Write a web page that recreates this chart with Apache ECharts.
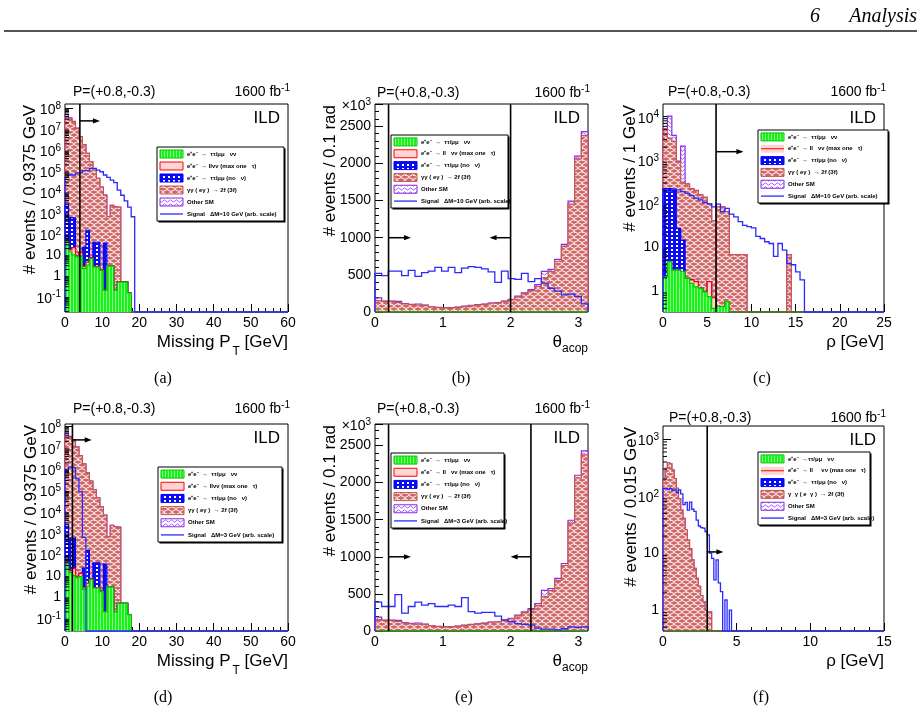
<!DOCTYPE html>
<html>
<head>
<meta charset="utf-8">
<script src="https://cdn.jsdelivr.net/npm/echarts@6/dist/echarts.min.js"></script>
<style>
html,body{margin:0;padding:0;background:#fff;}
#chart{width:921px;height:715px;}
</style>
</head>
<body>
<div id="chart"></div>
<script>
// ================= DATA =================
// Panels (a) and (d): Missing PT, bins of 0.9375 GeV, 64 bins from 0 to 60 GeV
const missPtBinWidth = 0.9375;
const missPtBins = 64;
const missPtTauMuNuNu = [42, 14, 10, 8, 9, 2.2, 3.2, 6.6, 2.6, 2.6, 1.8, 0.2, 2.9, 2.9, 0.2, 0.5, 0.5, 0.5, 0.15];
const missPtLLNuNu    = [5, 3, 12, 1, 4, 0.5, 1.3, 0.5, 0.2, 0.2, 0.1];
const missPtTauMuNoNu = [2450, 580, 560, 0, 0, 20, 145, 0, 37, 37, 0, 35];
const missPtGammaGamma = [3.5e7, 3.0e7, 2.3e7, 1.1e7, 4.4e6, 1.8e6, 7.0e5, 2.8e5, 1.1e5, 4.5e4, 1.7e4, 7000, 660, 2300, 2000, 1900];
const missPtOtherSM   = [1.5e7, 5e6, 1e6, 2e5, 5e4, 2e4, 6000, 2000, 600, 200, 60, 20, 5, 5, 5, 3];
const missPtSignalDM10 = [5.0e4, 6.5e4, 6.5e4, 8.3e4, 8.3e4, 1.05e5, 1.05e5, 1.35e5, 1.35e5, 1.12e5, 9.3e4, 6.5e4, 5.0e4, 3.7e4, 2.8e4, 1.23e4, 7.0e3, 3.8e3, 1.9e3, 660];
const missPtSignalDM3  = [1.0e6, 1.3e6, 1.2e6, 3.7e5, 9.0e4, 630];
const missPtCutDM10 = [4];
const missPtArrowDM10 = [[4, 9.4, 2.5e7]];
const missPtCutDM3 = [2];
const missPtArrowDM3 = [[2, 7.2, 2.4e7]];

// Panels (b) and (e): theta_acop, 32 bins from 0 to pi, values in units of 10^3 events
const acopBins = 32;
const acopTauMuNuNu = [1, 1, 1, 1, 1, 1, 1, 1, 1, 1, 1, 1, 1, 1, 1, 1, 1, 1, 1, 1, 1, 1, 1, 1, 1, 1, 1, 1, 1, 1, 1, 1];
const acopLLNuNu    = [1, 1, 1, 1, 1, 1, 1, 1, 1, 1, 1, 1, 1, 1, 1, 1, 1, 1, 1, 1, 1, 1, 1, 1, 1, 1, 1, 1, 1, 1, 1, 1];
const acopTauMuNoNu = [2, 1, 1, 1, 1, 1, 1, 1, 1, 1, 1, 1, 1, 1, 1, 1, 1, 1, 1, 1, 1, 1, 1, 1, 1, 1, 1, 1, 1, 1, 1, 2];
const acopGammaGamma = [150, 140, 140, 125, 105, 95, 90, 85, 65, 57, 50, 52, 60, 70, 82, 92, 100, 115, 118, 140, 162, 200, 245, 285, 340, 460, 540, 680, 880, 1450, 2060, 2370];
const acopOtherSM   = [35, 5, 5, 15, 5, 5, 15, 5, 3, 3, 2, 3, 2, 5, 3, 3, 5, 3, 4, 5, 6, 10, 11, 15, 25, 85, 30, 25, 27, 40, 36, 54];
const acopSignalDM10 = [520, 490, 550, 550, 490, 560, 480, 530, 550, 600, 550, 600, 530, 590, 610, 600, 580, 540, 400, 550, 450, 440, 520, 410, 450, 390, 320, 280, 230, 240, 210, 110];
const acopSignalDM3  = [390, 330, 330, 490, 240, 330, 390, 350, 370, 330, 330, 350, 330, 450, 260, 240, 250, 250, 200, 150, 125, 100, 90, 80, 40, 25, 25, 15, 30, 55, 45, 55];
const acopCutDM10 = [0.2, 2.0];
const acopArrowDM10 = [[0.2, 0.53, 1000], [2.0, 1.69, 1000]];
const acopCutDM3 = [0.2, 2.3];
const acopArrowDM3 = [[0.2, 0.53, 1000], [2.3, 2.0, 1000]];

// Panel (c): rho, 50 bins of 0.5 GeV from 0 to 25 GeV
const rhoBinWidth = 0.5;
const rhoBins = 50;
const rhoTauMuNuNu = [2.1, 4.7, 3.0, 3.0, 2.8, 1.95, 1.5, 1.25, 1.15, 0.96, 0.74, 0.4, 0.44, 0.44, 0.57];
const rhoLLNuNu    = [0, 0, 0, 0, 0, 0, 0.3, 0.4, 0, 0, 0.9, 0.3];
const rhoTauMuNoNu = [222, 219, 197, 24, 12];
const rhoGammaGamma = [5000, 3000, 2500, 900, 300, 280, 220, 200, 160, 140, 100, 40, 85, 85, 66, 6.8, 6.8, 6.8, 6.8, 0, 0, 0, 0, 0, 0, 0, 0, 0, 6.8];
const rhoOtherSM   = [100, 7000, 1000, 30, 1800, 5, 3, 2];
const rhoSignalDM10 = [209, 190, 219, 209, 190, 174, 155, 135, 123, 107, 100, 85, 98, 66, 79, 58, 50, 39, 32, 30, 28, 18, 16, 13.5, 12.3, 6.2, 12.3, 8.7, 4.3, 4.0, 2.75, 1.8];
const rhoCutDM10 = [6];
const rhoArrowDM10 = [[6, 9.1, 1570]];

// Panel (f): rho, 100 bins of 0.15 GeV from 0 to 15 GeV
const rhoFineBinWidth = 0.15;
const rhoFineBins = 100;
const rhoFineTauMuNuNu = [];
const rhoFineLLNuNu    = [];
const rhoFineTauMuNoNu = [];
const rhoFineGammaGamma = [190, 310, 390, 370, 290, 205, 138, 91, 57, 41, 26, 17, 12, 7.6, 5.4, 3.6, 2.6, 1.8, 1.4, 1.0, 0.93, 0.93];
const rhoFineOtherSM   = [];
const rhoFineSignalDM3 = [137, 137, 132, 137, 126, 129, 115, 129, 110, 71, 78, 57, 79, 59, 54, 38, 30, 28, 27.5, 24, 21, 10, 8.1, 3.4, 7.6, 3.0, 2.1, 0, 1.5, 0, 1.0];
const rhoFineCutDM3 = [3];
const rhoFineArrowDM3 = [[3, 4.1, 10.5]];

// Legend texts
const legendA = ['e\u207Ae\u207B  \u2192  \u03C4\u03C4/\u03BC\u03BC   \u03BD\u03BD', 'e\u207Ae\u207B  \u2192 ll\u03BD\u03BD (max one   \u03C4)', 'e\u207Ae\u207B  \u2192  \u03C4\u03C4/\u03BC\u03BC (no   \u03BD)', '\u03B3\u03B3 ( e\u03B3 )  \u2192 2f (3f)', 'Other SM', 'Signal   \u0394M=10 GeV (arb. scale)'];
const legendB = ['e\u207Ae\u207B  \u2192  \u03C4\u03C4/\u03BC\u03BC   \u03BD\u03BD', 'e\u207Ae\u207B  \u2192 ll   \u03BD\u03BD (max one   \u03C4)', 'e\u207Ae\u207B  \u2192  \u03C4\u03C4/\u03BC\u03BC (no   \u03BD)', '\u03B3\u03B3 ( e\u03B3 )  \u2192 2f (3f)', 'Other SM', 'Signal   \u0394M=10 GeV (arb. scale)'];
const legendD = ['e\u207Ae\u207B  \u2192  \u03C4\u03C4/\u03BC\u03BC   \u03BD\u03BD', 'e\u207Ae\u207B  \u2192 ll\u03BD\u03BD (max one   \u03C4)', 'e\u207Ae\u207B  \u2192  \u03C4\u03C4/\u03BC\u03BC (no   \u03BD)', '\u03B3\u03B3 ( e\u03B3 )  \u2192 2f (3f)', 'Other SM', 'Signal   \u0394M=3 GeV (arb. scale)'];
const legendE = ['e\u207Ae\u207B  \u2192  \u03C4\u03C4/\u03BC\u03BC   \u03BD\u03BD', 'e\u207Ae\u207B  \u2192 ll   \u03BD\u03BD (max one   \u03C4)', 'e\u207Ae\u207B  \u2192  \u03C4\u03C4/\u03BC\u03BC (no   \u03BD)', '\u03B3\u03B3 ( e\u03B3 )  \u2192 2f (3f)', 'Other SM', 'Signal   \u0394M=3 GeV (arb. scale)'];
const legendF = ['e\u207Ae\u207B  \u2192\u03C4\u03C4/\u03BC\u03BC   \u03BD\u03BD', 'e\u207Ae\u207B  \u2192 ll     \u03BD\u03BD (max one   \u03C4)', 'e\u207Ae\u207B  \u2192  \u03C4\u03C4/\u03BC\u03BC (no   \u03BD)', '\u03B3  \u03B3 ( e  \u03B3 )  \u2192 2f (3f)', 'Other SM', 'Signal   \u0394M=3 GeV (arb. scale)'];

// ================= STYLE =================
const FONT = '"Liberation Sans", Arial, Helvetica, sans-serif';
const SERIF = '"Liberation Serif", "Times New Roman", serif';
const SIG_COLOR = '#2a2aff';

function makePattern(w, h, base, draw) {
  const c = document.createElement('canvas');
  c.width = w; c.height = h;
  const g = c.getContext('2d');
  g.fillStyle = base; g.fillRect(0, 0, w, h);
  draw(g);
  return { image: c, repeat: 'repeat' };
}
const STACK_STYLE = [
  { fill: makePattern(3, 3, '#1cf01c', g => { g.fillStyle = '#86ff86'; g.fillRect(1, 0, 1, 3); }), stroke: '#00c800' },
  { fill: '#ffd4d4', stroke: '#ff0000' },
  { fill: makePattern(5, 4, '#0b0bef', g => { g.fillStyle = '#ffffff'; g.fillRect(1, 1, 2, 2); }), stroke: '#0000ff' },
  { fill: makePattern(8, 6, '#d06666', g => {
      g.strokeStyle = '#ffffff'; g.lineWidth = 1;
      g.beginPath(); g.moveTo(0, 1.5); g.lineTo(2, 0.5); g.lineTo(4, 1.5); g.lineTo(6, 2.5); g.lineTo(8, 1.5); g.stroke();
      g.beginPath(); g.moveTo(-4, 4.5); g.lineTo(-2, 3.5); g.lineTo(0, 4.5); g.lineTo(2, 5.5); g.lineTo(4, 4.5); g.lineTo(6, 3.5); g.lineTo(8, 4.5); g.stroke();
      g.fillStyle = '#ffffff'; g.fillRect(6, 4, 1, 1);
    }), stroke: '#c85555' },
  { fill: makePattern(6, 4, '#ffffff', g => {
      g.strokeStyle = '#a060ff'; g.lineWidth = 1;
      g.beginPath(); g.moveTo(0, 2); g.lineTo(1.5, 0.8); g.lineTo(3, 2); g.lineTo(4.5, 3.2); g.lineTo(6, 2); g.stroke();
    }), stroke: '#8a2be2' }
];

// ================= PANELS =================
const panels = [
  { grid: {left: 65, top: 104, width: 223, height: 208}, xMin: 0, xMax: 60, xInt: 10, yLog: true, yMin: 0.0186, yMax: 1.6e8,
    binW: missPtBinWidth, nBins: missPtBins,
    comps: [missPtTauMuNuNu, missPtLLNuNu, missPtTauMuNoNu, missPtGammaGamma, missPtOtherSM], sig: missPtSignalDM10,
    cuts: missPtCutDM10, arrows: missPtArrowDM10,
    pX: 73, pY: 92, yTitle: '# events / 0.9375 GeV', yTitleX: 30, xTitle: 'pt',
    legend: {x: 157, y: 147, w: 127, h: 74, variant: 0, texts: legendA}, caption: '(a)', capX: 163, capY: 379 },
  { grid: {left: 375, top: 104, width: 213, height: 208}, xMin: 0, xMax: Math.PI, xInt: 1, yLog: false, yMin: 0, yMax: 2800, yInt: 500,
    binW: Math.PI / acopBins, nBins: acopBins,
    comps: [acopTauMuNuNu, acopLLNuNu, acopTauMuNoNu, acopGammaGamma, acopOtherSM], sig: acopSignalDM10,
    cuts: acopCutDM10, arrows: acopArrowDM10,
    pX: 377, pY: 93, yTitle: '# events / 0.1 rad', yTitleX: 330, xTitle: 'acop', times: {x: 371, y: 106},
    legend: {x: 391, y: 135, w: 117, h: 73, variant: 0, texts: legendB}, caption: '(b)', capX: 461, capY: 379 },
  { grid: {left: 663, top: 104, width: 221, height: 208}, xMin: 0, xMax: 25, xInt: 5, yLog: true, yMin: 0.33, yMax: 1.95e4,
    binW: rhoBinWidth, nBins: rhoBins,
    comps: [rhoTauMuNuNu, rhoLLNuNu, rhoTauMuNoNu, rhoGammaGamma, rhoOtherSM], sig: rhoSignalDM10,
    cuts: rhoCutDM10, arrows: rhoArrowDM10,
    pX: 668, pY: 92, yTitle: '# events / 1 GeV', yTitleX: 630, xTitle: 'rho',
    legend: {x: 758, y: 130, w: 130, h: 73, variant: 1, texts: legendB}, caption: '(c)', capX: 762, capY: 379 },
  { grid: {left: 65, top: 424, width: 223, height: 207}, xMin: 0, xMax: 60, xInt: 10, yLog: true, yMin: 0.0253, yMax: 1.34e8,
    binW: missPtBinWidth, nBins: missPtBins,
    comps: [missPtTauMuNuNu, missPtLLNuNu, missPtTauMuNoNu, missPtGammaGamma, missPtOtherSM], sig: missPtSignalDM3,
    cuts: missPtCutDM3, arrows: missPtArrowDM3,
    pX: 73, pY: 409, yTitle: '# events / 0.9375 GeV', yTitleX: 31, xTitle: 'pt',
    legend: {x: 158, y: 467, w: 124, h: 75, variant: 0, texts: legendD}, caption: '(d)', capX: 163, capY: 698 },
  { grid: {left: 375, top: 424, width: 213, height: 207}, xMin: 0, xMax: Math.PI, xInt: 1, yLog: false, yMin: 0, yMax: 2790, yInt: 500,
    binW: Math.PI / acopBins, nBins: acopBins,
    comps: [acopTauMuNuNu, acopLLNuNu, acopTauMuNoNu, acopGammaGamma, acopOtherSM], sig: acopSignalDM3,
    cuts: acopCutDM3, arrows: acopArrowDM3,
    pX: 377, pY: 409, yTitle: '# events / 0.1 rad', yTitleX: 330, xTitle: 'acop', times: {x: 371, y: 426},
    legend: {x: 391, y: 453, w: 113, h: 75, variant: 0, texts: legendE}, caption: '(e)', capX: 464, capY: 698 },
  { grid: {left: 663, top: 426, width: 221, height: 205}, xMin: 0, xMax: 15, xInt: 5, yLog: true, yMin: 0.428, yMax: 1715,
    binW: rhoFineBinWidth, nBins: rhoFineBins,
    comps: [rhoFineTauMuNuNu, rhoFineLLNuNu, rhoFineTauMuNoNu, rhoFineGammaGamma, rhoFineOtherSM], sig: rhoFineSignalDM3,
    cuts: rhoFineCutDM3, arrows: rhoFineArrowDM3,
    pX: 669, pY: 418, yTitle: '# events / 0.015 GeV', yTitleX: 631, xTitle: 'rho',
    legend: {x: 758, y: 452, w: 112, h: 73, variant: 1, texts: legendF}, caption: '(f)', capX: 761, capY: 698 }
];

// ================= BUILD =================
function cumulate(comps, n) {
  const cum = [];
  let prev = new Array(n).fill(0);
  comps.forEach(c => {
    const cur = prev.map((v, i) => v + (c[i] || 0));
    cum.push(cur); prev = cur;
  });
  return cum;
}
function clampFn(p) {
  return v => Math.min(p.yMax, p.yLog ? Math.max(v, p.yMin) : Math.max(v, 0));
}
function logLabel(v) {
  const n = Math.round(Math.log10(v));
  if (n === 0) return '1';
  if (n === 1) return '10';
  return '{b|10}{s|' + n + '}';
}
const tickRich = {
  b: {fontSize: 14, fontFamily: FONT, color: '#000', lineHeight: 14, padding: [4, 0, 0, 0]},
  s: {fontSize: 10, fontFamily: FONT, color: '#000', lineHeight: 10, verticalAlign: 'top'}
};

const grids = [], xAxes = [], yAxes = [], series = [], graphics = [];

panels.forEach((p, gi) => {
  p.cum = cumulate(p.comps, p.nBins);
  const cl = clampFn(p);
  grids.push(Object.assign({show: true, borderColor: '#000', borderWidth: 1, backgroundColor: 'transparent', containLabel: false, outerBoundsMode: 'none'}, p.grid));
  xAxes.push({
    gridIndex: gi, type: 'value', min: p.xMin, max: p.xMax, interval: p.xInt,
    axisLine: {show: false},
    axisTick: {show: true, inside: true, length: 8, lineStyle: {color: '#000', width: 1}},
    minorTick: {show: true, splitNumber: 5, length: 4, lineStyle: {color: '#000', width: 1}},
    splitLine: {show: false}, minorSplitLine: {show: false},
    axisLabel: {color: '#000', fontSize: 14, fontFamily: FONT, margin: 4, showMinLabel: true, showMaxLabel: p.xMax === Math.PI ? false : true,
      formatter: v => String(Math.round(v * 1000) / 1000)}
  });
  if (p.yLog) {
    yAxes.push({
      gridIndex: gi, type: 'log', logBase: 10, min: p.yMin, max: p.yMax, splitNumber: 10,
      axisLine: {show: false},
      axisTick: {show: true, inside: true, length: 8, lineStyle: {color: '#000', width: 1}},
      splitLine: {show: false},
      axisLabel: {color: '#000', fontSize: 14, fontFamily: FONT, margin: 4, showMinLabel: false, showMaxLabel: false, formatter: logLabel, rich: tickRich}
    });
  } else {
    yAxes.push({
      gridIndex: gi, type: 'value', min: p.yMin, max: p.yMax, interval: p.yInt,
      axisLine: {show: false},
      axisTick: {show: true, inside: true, length: 8, lineStyle: {color: '#000', width: 1}},
      minorTick: {show: true, splitNumber: 5, length: 4, lineStyle: {color: '#000', width: 1}},
      splitLine: {show: false}, minorSplitLine: {show: false},
      axisLabel: {color: '#000', fontSize: 14, fontFamily: FONT, margin: 4, showMinLabel: true, showMaxLabel: false,
        formatter: v => String(Math.round(v))}
    });
  }
  const xEnd = p.xMin + p.nBins * p.binW;
  // stacked backgrounds, drawn from the top component down (ROOT THStack order)
  for (let k = 4; k >= 0; k--) {
    series.push({
      type: 'custom', xAxisIndex: gi, yAxisIndex: gi, silent: true, animation: false,
      data: [[p.binW, 1]],
      renderItem: (params, api) => {
        const hi = p.cum[k], lo = k > 0 ? p.cum[k - 1] : null;
        const top = [], bot = [];
        for (let i = 0; i < p.nBins; i++) {
          const x0 = p.xMin + i * p.binW, x1 = x0 + p.binW;
          const h = cl(hi[i]), l = cl(lo ? lo[i] : 0);
          top.push(api.coord([x0, h]), api.coord([x1, h]));
          bot.push(api.coord([x0, l]), api.coord([x1, l]));
        }
        const outline = [api.coord([p.xMin, cl(0)])].concat(top, [api.coord([xEnd, cl(0)])]);
        return {type: 'group', children: [
          {type: 'polygon', shape: {points: top.concat(bot.slice().reverse())}, style: {fill: STACK_STYLE[k].fill, stroke: null}},
          {type: 'polyline', shape: {points: outline}, style: {fill: 'none', stroke: STACK_STYLE[k].stroke, lineWidth: 1.2}}
        ]};
      }
    });
  }
  // signal
  series.push({
    type: 'custom', xAxisIndex: gi, yAxisIndex: gi, silent: true, animation: false,
    data: [[p.binW, 1]],
    renderItem: (params, api) => {
      const pts = [api.coord([p.xMin, cl(0)])];
      for (let i = 0; i < p.nBins; i++) {
        const x0 = p.xMin + i * p.binW, x1 = x0 + p.binW;
        const h = cl(p.sig[i] || 0);
        pts.push(api.coord([x0, h]), api.coord([x1, h]));
      }
      pts.push(api.coord([xEnd, cl(0)]));
      return {type: 'polyline', shape: {points: pts}, style: {fill: 'none', stroke: SIG_COLOR, lineWidth: 1.3}};
    }
  });
  // cut lines and arrows
  series.push({
    type: 'custom', xAxisIndex: gi, yAxisIndex: gi, silent: true, animation: false,
    data: [[p.binW, 1]],
    renderItem: (params, api) => {
      const ch = [];
      p.cuts.forEach(c => {
        const a = api.coord([c, p.yLog ? p.yMin : 0]), b = api.coord([c, p.yMax]);
        ch.push({type: 'line', shape: {x1: a[0], y1: a[1], x2: b[0], y2: b[1]}, style: {stroke: '#000', lineWidth: 1.6}});
      });
      p.arrows.forEach(ar => {
        const a = api.coord([ar[0], ar[2]]), b = api.coord([ar[1], ar[2]]);
        const d = b[0] > a[0] ? 1 : -1;
        ch.push({type: 'line', shape: {x1: a[0], y1: a[1], x2: b[0] - d * 3, y2: b[1]}, style: {stroke: '#000', lineWidth: 1.5}});
        ch.push({type: 'polygon', shape: {points: [[b[0], b[1]], [b[0] - d * 7, b[1] - 2.6], [b[0] - d * 7, b[1] + 2.6]]}, style: {fill: '#000'}});
      });
      return {type: 'group', children: ch};
    }
  });
  // log-axis minor ticks (2..9 x 10^n)
  if (p.yLog) {
    series.push({
      type: 'custom', xAxisIndex: gi, yAxisIndex: gi, silent: true, animation: false,
      data: [[p.binW, 1]],
      renderItem: (params, api) => {
        const ch = [];
        const d0 = Math.floor(Math.log10(p.yMin)), d1 = Math.ceil(Math.log10(p.yMax));
        for (let d = d0; d <= d1; d++) {
          for (let m = 2; m <= 9; m++) {
            const v = m * Math.pow(10, d);
            if (v <= p.yMin || v >= p.yMax) continue;
            const q = api.coord([p.xMin, v]);
            ch.push({type: 'line', shape: {x1: q[0], y1: q[1], x2: q[0] + 4, y2: q[1]}, style: {stroke: '#000', lineWidth: 1}});
          }
        }
        return {type: 'group', children: ch};
      }
    });
  }

  // ---- texts ----
  const G = p.grid, right = G.left + G.width, bottom = G.top + G.height;
  const T = (x, y, style, extra) => Object.assign({type: 'text', x: x, y: y, z: 100, silent: true,
    style: Object.assign({fill: '#000', font: '14px ' + FONT}, style)}, extra || {});
  graphics.push(T(p.pX, p.pY, {text: 'P=(+0.8,-0.3)', align: 'left', verticalAlign: 'middle', textAlign: 'left', textVerticalAlign: 'middle'}));
  graphics.push(T(right + 2, p.pY - 2, {text: '{n|1600 fb}{s|-1}', align: 'right', verticalAlign: 'middle', textAlign: 'right', textVerticalAlign: 'middle',
    rich: {n: {fontSize: 14, fontFamily: FONT, lineHeight: 14, padding: [4, 0, 0, 0]}, s: {fontSize: 10, fontFamily: FONT, lineHeight: 10, verticalAlign: 'top'}}}));
  graphics.push(T(right - 8, G.top + 14, {text: 'ILD', font: '17px ' + FONT, align: 'right', verticalAlign: 'middle', textAlign: 'right', textVerticalAlign: 'middle'}));
  graphics.push(T(p.yTitleX, G.top + 1, {text: p.yTitle, font: '17px ' + FONT, align: 'right', verticalAlign: 'middle', textAlign: 'right', textVerticalAlign: 'middle'}, {rotation: Math.PI / 2}));
  let xt, xr;
  if (p.xTitle === 'pt') {
    xt = '{n|Missing P}{sub|T}{n| [GeV]}';
    xr = {n: {fontSize: 17, fontFamily: FONT, lineHeight: 17, verticalAlign: 'top'}, sub: {fontSize: 12, fontFamily: FONT, lineHeight: 12, verticalAlign: 'top', padding: [12, 0, 0, 2]}};
  } else if (p.xTitle === 'acop') {
    xt = '{n|\u03B8}{sub|acop}';
    xr = {n: {fontSize: 17, fontFamily: FONT, lineHeight: 17, verticalAlign: 'top'}, sub: {fontSize: 12, fontFamily: FONT, lineHeight: 12, verticalAlign: 'top', padding: [9, 0, 0, 0]}};
  } else {
    xt = '{n|\u03C1 [GeV]}';
    xr = {n: {fontSize: 17, fontFamily: FONT, lineHeight: 17, verticalAlign: 'top'}};
  }
  graphics.push(T(right, bottom + 30 - 8.5, {text: xt, rich: xr, align: 'right', verticalAlign: 'top', textAlign: 'right', textVerticalAlign: 'top'}));
  if (p.times) {
    graphics.push(T(p.times.x, p.times.y - 2, {text: '{n|\u00D710}{s|3}', align: 'right', verticalAlign: 'middle', textAlign: 'right', textVerticalAlign: 'middle',
      rich: {n: {fontSize: 14, fontFamily: FONT, lineHeight: 14, padding: [4, 0, 0, 0]}, s: {fontSize: 10, fontFamily: FONT, lineHeight: 10, verticalAlign: 'top'}}}));
  }
  graphics.push(T(p.capX, p.capY, {text: p.caption, font: '16px ' + SERIF, align: 'center', verticalAlign: 'middle', textAlign: 'center', textVerticalAlign: 'middle'}));

  // ---- legend box ----
  const L = p.legend;
  const rowH = (L.h - 2) / 6;
  const ch = [
    {type: 'rect', z: 100, shape: {x: 1.5, y: 1.5, width: L.w, height: L.h}, style: {fill: '#000'}},
    {type: 'rect', z: 100, shape: {x: 0, y: 0, width: L.w, height: L.h}, style: {fill: '#fff', stroke: '#000', lineWidth: 1}}
  ];
  for (let j = 0; j < 6; j++) {
    const cy = 1 + rowH * (j + 0.5);
    if (j < 5) {
      const st = STACK_STYLE[j];
      if (L.variant === 1 && j === 1) {
        ch.push({type: 'rect', z: 100, shape: {x: 3, y: cy - 4, width: 23, height: 8}, style: {fill: st.fill}});
        ch.push({type: 'line', z: 100, shape: {x1: 3, y1: cy, x2: 26, y2: cy}, style: {stroke: '#ff0000', lineWidth: 1}});
      } else {
        ch.push({type: 'rect', z: 100, shape: {x: 3, y: cy - 4, width: 23, height: 8}, style: {fill: st.fill, stroke: st.stroke, lineWidth: 1}});
      }
    } else {
      ch.push({type: 'line', z: 100, shape: {x1: 3, y1: cy, x2: 26, y2: cy}, style: {stroke: SIG_COLOR, lineWidth: 1.3}});
    }
    ch.push({type: 'text', z: 100, x: 30, y: cy, style: {text: L.texts[j], fill: '#000', font: 'bold 6px ' + FONT, align: 'left', verticalAlign: 'middle', textAlign: 'left', textVerticalAlign: 'middle'}});
  }
  graphics.push({type: 'group', x: L.x, y: L.y, z: 100, silent: true, children: ch});
});

// page header
graphics.push({type: 'text', x: 820, y: 17, z: 100, silent: true, style: {text: '6', fill: '#000', font: 'italic 20px ' + SERIF, align: 'right', verticalAlign: 'middle', textAlign: 'right', textVerticalAlign: 'middle'}});
graphics.push({type: 'text', x: 917, y: 17, z: 100, silent: true, style: {text: 'Analysis', fill: '#000', font: 'italic 20px ' + SERIF, align: 'right', verticalAlign: 'middle', textAlign: 'right', textVerticalAlign: 'middle'}});
graphics.push({type: 'line', z: 100, silent: true, shape: {x1: 4, y1: 31, x2: 917, y2: 31}, style: {stroke: '#555', lineWidth: 2}});

const chart = echarts.init(document.getElementById('chart'), null, {renderer: 'canvas', width: 921, height: 715});
chart.setOption({
  animation: false,
  backgroundColor: '#ffffff',
  grid: grids,
  xAxis: xAxes,
  yAxis: yAxes,
  series: series,
  graphic: graphics
});
</script>
</body>
</html>
